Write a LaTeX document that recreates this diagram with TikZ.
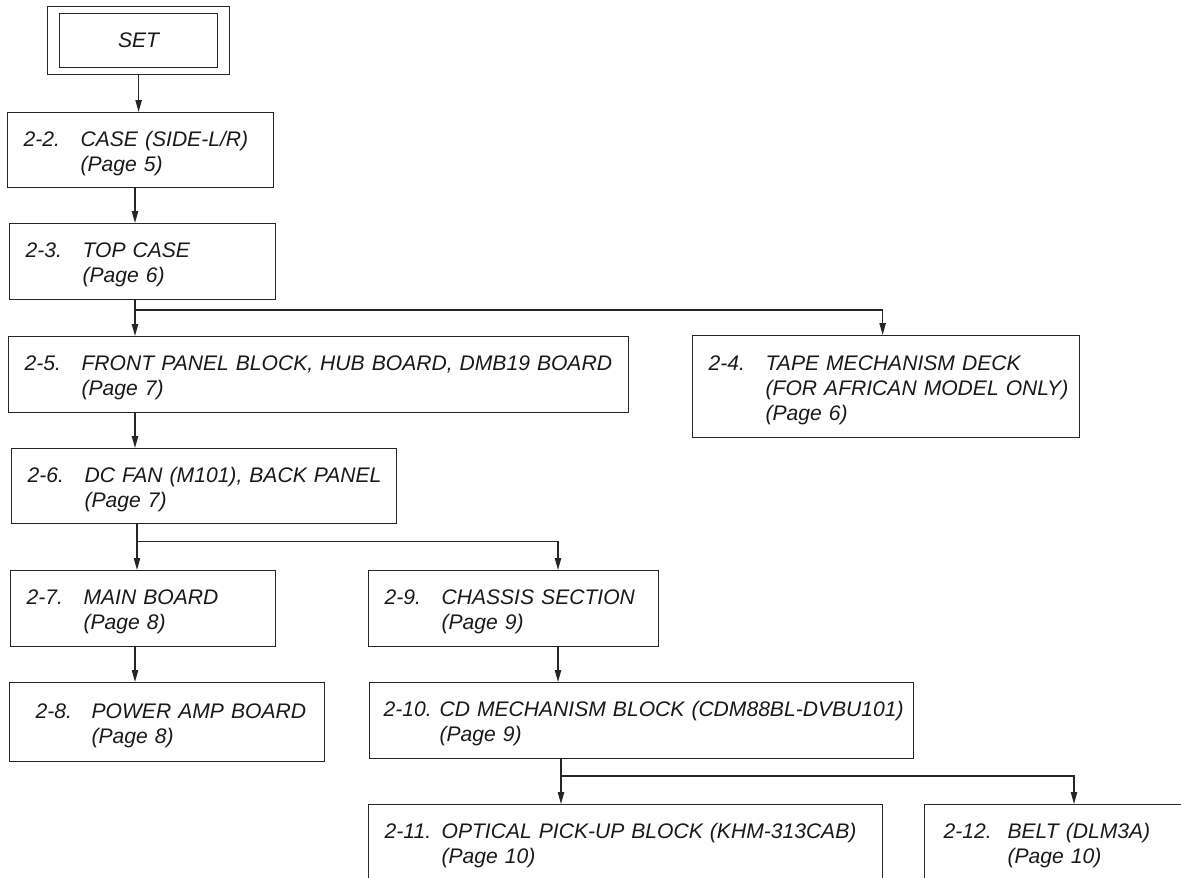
\documentclass[tikz,border=0pt]{standalone}
\usepackage{fontspec}
\setmainfont{Liberation Sans}
\usetikzlibrary{arrows.meta}

% number column + label column
\newcommand{\ent}[3][1.14cm]{\begin{tabular}{@{}p{#1}@{}l@{}}\rule{0pt}{14pt}#2 & #3\end{tabular}}

\tikzset{
  blk/.style={draw=black!85, line width=0.7pt, anchor=north west, inner xsep=0.32cm,
    text width={#1-0.64cm}, text=black!90, font=\itshape\fontsize{12}{14.2}\selectfont},
  arr/.style={draw=black!85, line width=0.7pt, -{Triangle[length=6.8pt,width=3.6pt]}}
}

\begin{document}
\begin{tikzpicture}[x=1cm,y=-1cm]
  \useasboundingbox (0,0) rectangle (23.62,17.56);
  \clip (0,0) rectangle (23.62,17.56);

  % Start
  \node[draw=black!85, line width=0.7pt, anchor=north west, minimum width=3.64cm, minimum height=1.36cm] (setout) at (0.94,0.12) {};
  \node[draw=black!85, line width=0.7pt, anchor=north west, minimum width=3.16cm, minimum height=1.08cm,
    text=black!90, font=\itshape\fontsize{12}{14.2}\selectfont] (set) at (1.18,0.26) {SET};

  % Left column
  \node[blk=5.32cm, minimum height=1.50cm] (b22) at (0.14,2.24) {\ent{2-2.}{CASE (SIDE-L/R)\\ & (Page 5)}};
  \node[blk=5.32cm, minimum height=1.52cm] (b23) at (0.18,4.46) {\ent{2-3.}{TOP CASE\\ & (Page 6)}};
  \node[blk=12.40cm, minimum height=1.52cm] (b25) at (0.16,6.72) {\ent{2-5.}{FRONT PANEL BLOCK, HUB BOARD, DMB19 BOARD\\ & (Page 7)}};
  \node[blk=7.70cm, minimum height=1.50cm] (b26) at (0.22,8.96) {\ent{2-6.}{DC FAN (M101), BACK PANEL\\ & (Page 7)}};
  \node[blk=5.30cm, minimum height=1.52cm] (b27) at (0.20,11.40) {\ent{2-7.}{MAIN BOARD\\ & (Page 8)}};
  \node[blk=6.30cm, inner xsep=0.52cm, text width=5.26cm, minimum height=1.58cm] (b28) at (0.18,13.64) {\ent[1.12cm]{2-8.}{POWER AMP BOARD\\ & (Page 8)}};

  % Right side
  \node[blk=7.74cm, minimum height=2.04cm] (b24) at (13.84,6.70) {\ent{2-4.}{TAPE MECHANISM DECK\\ & (FOR AFRICAN MODEL ONLY)\\ & (Page 6)}};
  \node[blk=5.80cm, minimum height=1.52cm] (b29) at (7.36,11.40) {\ent{2-9.}{CHASSIS SECTION\\ & (Page 9)}};
  \node[blk=10.88cm, inner xsep=0.28cm, text width=10.32cm, minimum height=1.52cm] (b210) at (7.38,13.64) {\ent[1.12cm]{2-10.}{CD MECHANISM BLOCK (CDM88BL-DVBU101)\\ & (Page 9)}};
  \node[blk=10.28cm, minimum height=1.52cm] (b211) at (7.36,16.08) {\ent{2-11.}{OPTICAL PICK-UP BLOCK (KHM-313CAB)\\ & (Page 10)}};
  \node[blk=6.00cm, inner xsep=0.38cm, text width=5.24cm, minimum height=1.52cm] (b212) at (18.48,16.08) {\ent[1.28cm]{2-12.}{BELT (DLM3A)\\ & (Page 10)}};

  % Line positions
  \coordinate (sp) at (2.70,0);
  \coordinate (sr) at (11.16,0);
  \coordinate (ss) at (21.48,0);
  \coordinate (j1) at (2.70,6.20);
  \coordinate (j2) at (2.74,10.83);
  \coordinate (j3) at (11.22,15.52);

  % Arrows
  \draw[arr] (setout.south) -- (setout.south |- b22.north);
  \draw[arr] (b22.south -| sp) -- (b23.north -| sp);
  \draw[arr] (b23.south -| sp) -- (b25.north -| sp);
  \draw[arr] (j1) -| ([xshift=-0.07cm]b24.north);
  \draw[arr] (b25.south -| sp) -- (b26.north -| sp);
  \draw[arr] (b26.south -| j2) -- (b27.north -| j2);
  \draw[arr] (j2) -| (b29.north -| sr);
  \draw[arr] (b27.south -| sp) -- (b28.north -| sp);
  \draw[arr] (b29.south -| sr) -- (b210.north -| sr);
  \draw[arr] (b210.south -| j3) -- (b211.north -| j3);
  \draw[arr] (j3) -| (b212.north -| ss);
\end{tikzpicture}
\end{document}
